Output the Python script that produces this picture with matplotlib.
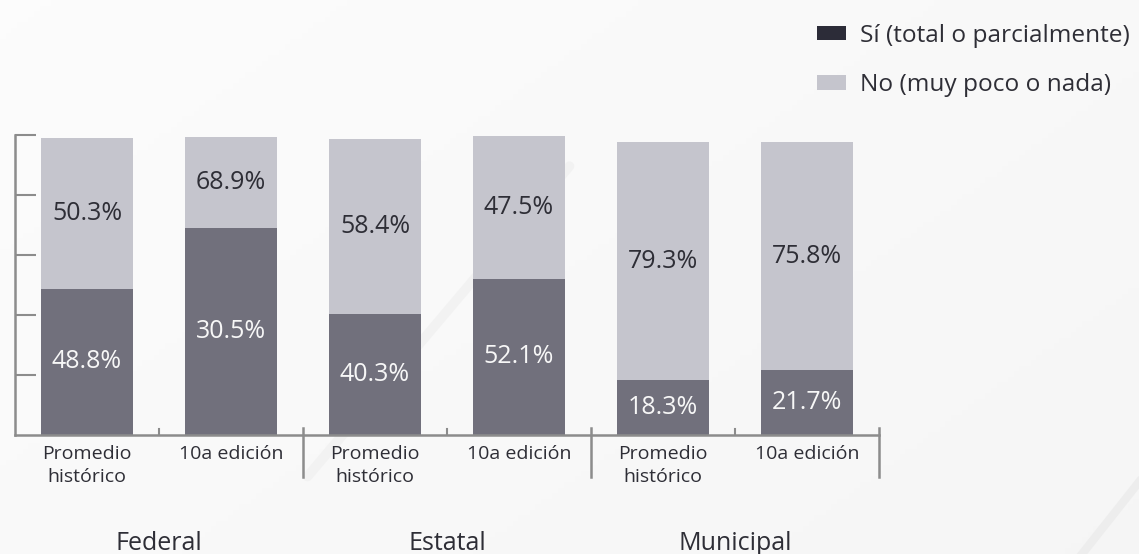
import matplotlib
matplotlib.use("Agg")
import matplotlib.pyplot as plt
import numpy as np
from matplotlib.patches import Patch

# ---- data ----
categories = ["Promedio\nhistórico", "10a edición",
              "Promedio\nhistórico", "10a edición",
              "Promedio\nhistórico", "10a edición"]
groups = ["Federal", "Estatal", "Municipal"]
si_values = [48.8, 68.9, 40.3, 52.1, 18.3, 21.7]
no_values = [50.3, 30.5, 58.4, 47.5, 79.3, 75.8]
si_labels = ["48.8%", "30.5%", "40.3%", "52.1%", "18.3%", "21.7%"]
no_labels = ["50.3%", "68.9%", "58.4%", "47.5%", "79.3%", "75.8%"]
legend_labels = ["Sí (total o parcialmente)", "No (muy poco o nada)"]
y_ticks = [20, 40, 60, 80, 100]

# ---- style ----
plt.rcParams['font.family'] = ['Open Sans', 'DejaVu Sans']
C_DARK = "#71707c"
C_LIGHT = "#c5c5cd"
C_LEG_DARK = "#2c2c38"
C_AXIS = "#8c8c8c"
C_TEXT = "#2e2e36"

W, H = 1139, 554
fig = plt.figure(figsize=(W / 100, H / 100), dpi=100)
fig.patch.set_facecolor("#f5f5f5")

# subtle background gradient
bg = fig.add_axes([0, 0, 1, 1], zorder=-10)
gx = np.linspace(0, 1, 200)
gy = np.linspace(0, 1, 100)
GX, GY = np.meshgrid(gx, gy)
grad = 0.985 - 0.025 * (0.6 * GX + 0.4 * GY)
bg.imshow(grad, cmap="gray", vmin=0, vmax=1, aspect="auto",
          extent=[0, 1, 0, 1], origin="upper")
bg.plot([0.27, 0.50], [0.14, 0.70], color="#ebebeb", lw=7, alpha=0.45,
        solid_capstyle="round")
bg.plot([0.95, 1.0], [0.0, 0.13], color="#e8e8e8", lw=6, alpha=0.6)
bg.set_xlim(0, 1)
bg.set_ylim(0, 1)
bg.axis("off")

# main axes: pixel geometry
x0, x1 = 15, 879
y_base, y_top = 435, 135
ax = fig.add_axes([x0 / W, (H - y_base) / H, (x1 - x0) / W, (y_base - y_top) / H])
ax.patch.set_alpha(0)

x = np.arange(len(categories))
bw = 0.64
ax.bar(x, si_values, width=bw, color=C_DARK, zorder=2)
ax.bar(x, no_values, width=bw, bottom=si_values, color=C_LIGHT, zorder=2)

for xi, s, n, sl, nl in zip(x, si_values, no_values, si_labels, no_labels):
    ax.text(xi, s / 2, sl, ha="center", va="center", fontsize=18,
            color="#f7f7f7", zorder=3)
    ax.text(xi, s + n / 2, nl, ha="center", va="center", fontsize=18,
            color=C_TEXT, zorder=3)

ax.set_xlim(-0.5, len(categories) - 0.5)
ax.set_ylim(0, 100)

for sp in ["top", "right"]:
    ax.spines[sp].set_visible(False)
for sp in ["left", "bottom"]:
    ax.spines[sp].set_color(C_AXIS)
    ax.spines[sp].set_linewidth(1.8)

ax.set_yticks(y_ticks)
ax.set_yticklabels([])
ax.tick_params(axis="y", direction="in", length=15, width=1.5, color=C_AXIS)

ax.set_xticks(x)
ax.set_xticklabels(categories, fontsize=14, color=C_TEXT, linespacing=1.35)
ax.tick_params(axis="x", length=0, pad=7)
for lab in ax.get_xticklabels():
    lab.set_verticalalignment("top")

trans = ax.get_xaxis_transform()
# small ticks between bars in a group, larger separators between groups
for g in range(len(groups)):
    mid = 2 * g + 0.5
    ax.plot([mid, mid], [0, 0.02], transform=trans, color=C_AXIS, lw=1.5,
            clip_on=False)
    sep = 2 * g + 1.5
    ax.plot([sep, sep], [0.023, -0.14], transform=trans, color=C_AXIS, lw=1.8,
            clip_on=False)
    ax.text(mid, -0.383, groups[g], transform=trans, ha="center",
            va="baseline", fontsize=18, color=C_TEXT)

# legend
handles = [Patch(facecolor=C_LEG_DARK, edgecolor="none"),
           Patch(facecolor=C_LIGHT, edgecolor="none")]
fig.legend(handles, legend_labels, loc="upper left",
           bbox_to_anchor=(807 / W, 1 - 14 / H), frameon=False, fontsize=17.6,
           handlelength=1.2, handleheight=0.55, handletextpad=0.55,
           labelspacing=1.05, labelcolor=C_TEXT, borderaxespad=0)

fig.savefig("out.png", dpi=100, facecolor=fig.get_facecolor())
